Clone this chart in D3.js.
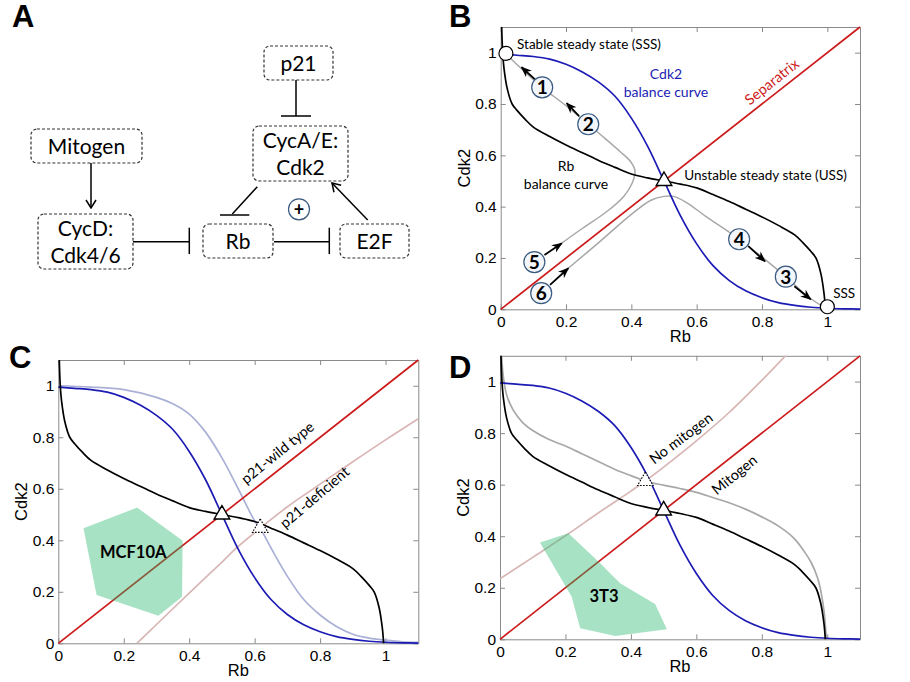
<!DOCTYPE html>
<html>
<head>
<meta charset="utf-8">
<script src="https://cdn.jsdelivr.net/npm/d3@7"></script>
<style>
body { margin: 0; background: #fff; }
svg { display: block; }
</style>
</head>
<body>
<script>
"use strict";

// ---- data (Rb, Cdk2) ----
const RANGE = [0, 1.1];
const TICKS = [0, 0.2, 0.4, 0.6, 0.8, 1];

const cdk2Balance = [[0, 0.995], [0.05, 0.99], [0.1, 0.985], [0.15, 0.975], [0.2, 0.955], [0.25, 0.925],
	[0.3, 0.885], [0.35, 0.83], [0.4, 0.745], [0.45, 0.635], [0.5, 0.5], [0.55, 0.365], [0.6, 0.255],
	[0.65, 0.17], [0.7, 0.112], [0.75, 0.072], [0.8, 0.045], [0.85, 0.026], [0.9, 0.015], [0.95, 0.008],
	[1.0, 0.004], [1.05, 0.002], [1.1, 0.001]];

const rbBalance = [[0.003, 1.1], [0.006, 1.0], [0.01, 0.94], [0.02, 0.86], [0.035, 0.8], [0.05, 0.775],
	[0.075, 0.74], [0.1, 0.71], [0.15, 0.673], [0.2, 0.64], [0.25, 0.61], [0.3, 0.58], [0.35, 0.553],
	[0.4, 0.527], [0.45, 0.512], [0.5, 0.5], [0.55, 0.488], [0.6, 0.473], [0.65, 0.447], [0.7, 0.42],
	[0.75, 0.39], [0.8, 0.36], [0.85, 0.327], [0.9, 0.29], [0.925, 0.26], [0.95, 0.225], [0.965, 0.2],
	[0.98, 0.14], [0.99, 0.06], [0.994, 0]];

const separatrix = [[0, 0], [1.1, 1.1]];

// trajectories 5 -> 2 -> 1 and 6 -> 4 -> 3
const trajUpper = [[0.186, 0.257], [0.243, 0.309], [0.324, 0.38], [0.376, 0.439], [0.402, 0.49],
	[0.411, 0.54], [0.398, 0.575], [0.365, 0.615], [0.32, 0.665], [0.268, 0.721], [0.2, 0.793],
	[0.127, 0.865], [0.07, 0.93], [0.016, 0.995]];
const trajLower = [[0.207, 0.16], [0.3, 0.26], [0.4, 0.37], [0.46, 0.425], [0.5, 0.44], [0.53, 0.44],
	[0.57, 0.415], [0.63, 0.36], [0.73, 0.273], [0.873, 0.127], [0.94, 0.05], [0.985, 0.012]];

const trajLabels = [1, 2, 3, 4, 5, 6];
const trajLabelPos = [[0.127, 0.865], [0.268, 0.721], [0.873, 0.127], [0.73, 0.273], [0.103, 0.184], [0.124, 0.063]];
const trajArrows = [
	[[0.105, 0.896], [0.064, 0.943]],
	[[0.24, 0.753], [0.202, 0.803]],
	[[0.899, 0.09], [0.949, 0.039]],
	[[0.758, 0.246], [0.809, 0.187]],
	[[0.134, 0.212], [0.187, 0.257]],
	[[0.151, 0.095], [0.207, 0.16]]
];

const stableStates = [[0.016, 0.997], [1.0, 0.01]];
const unstableState = [0.5, 0.5];

// panel C: p21-deficient
const cdk2BalanceP21Def = [[0, 1.0], [0.1, 0.995], [0.2, 0.985], [0.3, 0.955], [0.35, 0.93], [0.4, 0.89],
	[0.45, 0.82], [0.5, 0.72], [0.55, 0.6], [0.6, 0.475], [0.62, 0.44], [0.65, 0.37], [0.7, 0.26],
	[0.75, 0.17], [0.8, 0.11], [0.85, 0.065], [0.9, 0.035], [0.95, 0.02], [1.0, 0.012], [1.05, 0.006], [1.1, 0.004]];
const separatrixP21Def = [[0.24, 0], [0.3, 0.073], [0.4, 0.195], [0.5, 0.315], [0.546, 0.372], [0.617, 0.447],
	[0.7, 0.53], [0.8, 0.618], [0.9, 0.705], [1.0, 0.79], [1.1, 0.872]];
const ussP21Def = [0.617, 0.448];
const mcf10a = [[0.077, 0.447], [0.241, 0.527], [0.38, 0.398], [0.378, 0.181], [0.306, 0.107], [0.117, 0.188]];

// panel D: no mitogen
const rbBalanceNoMitogen = [[0.005, 1.1], [0.01, 1.02], [0.02, 0.95], [0.04, 0.89], [0.07, 0.84], [0.1, 0.81],
	[0.15, 0.775], [0.2, 0.75], [0.25, 0.72], [0.3, 0.69], [0.35, 0.66], [0.4, 0.635], [0.45, 0.612],
	[0.5, 0.598], [0.55, 0.585], [0.6, 0.57], [0.65, 0.55], [0.7, 0.53], [0.75, 0.505], [0.8, 0.475],
	[0.85, 0.44], [0.9, 0.39], [0.93, 0.34], [0.95, 0.3], [0.97, 0.24], [0.98, 0.19], [0.99, 0.11],
	[0.995, 0.04], [0.997, 0]];
const separatrixNoMitogen = [[0, 0.235], [0.1, 0.318], [0.204, 0.405], [0.3, 0.49], [0.4, 0.575],
	[0.444, 0.614], [0.5, 0.668], [0.6, 0.77], [0.7, 0.88], [0.8, 1.005], [0.872, 1.1]];
const ussNoMitogen = [0.444, 0.614];
const nih3t3 = [[0.122, 0.376], [0.209, 0.411], [0.306, 0.295], [0.367, 0.217], [0.474, 0.137],
	[0.51, 0.039], [0.352, 0.013], [0.245, 0.043], [0.219, 0.165]];

// ---- styles ----
const AXIS_COLOR = "#8a8a8a";
const BLUE = "#1c1cb4";
const RED = "#cc1a1a";
const GRAY = "#a8a8a8";
const LAVENDER = "#aab0d6";
const PINK = "#d8b6b6";
const GREEN = "rgb(37,182,107)";
const SANS = "'Liberation Sans', Arial, sans-serif";
const NOTE = "Lato, 'Open Sans', sans-serif";

const svg = d3.select("body").append("svg").attr("width", 910).attr("height", 682)
	.style("font-family", NOTE);

const defs = svg.append("defs");
defs.append("marker").attr("id", "barb").attr("viewBox", "0 0 10 8")
	.attr("refX", 9).attr("refY", 4).attr("markerWidth", 11).attr("markerHeight", 9)
	.attr("markerUnits", "userSpaceOnUse").attr("orient", "auto")
	.append("path").attr("d", "M0,0 L10,4 L0,8 L3,4 Z").attr("fill", "#000");
defs.append("marker").attr("id", "vee").attr("viewBox", "0 0 10 12")
	.attr("refX", 9).attr("refY", 6).attr("markerWidth", 10).attr("markerHeight", 12)
	.attr("markerUnits", "userSpaceOnUse").attr("orient", "auto")
	.append("path").attr("d", "M1,1 L9,6 L1,11").attr("fill", "none").attr("stroke", "#000").attr("stroke-width", 1.5);

function panelLetter(txt, x, y) {
	svg.append("text").attr("x", x).attr("y", y).text(txt)
		.attr("font-family", SANS).attr("font-weight", "bold").attr("font-size", 31);
}

function makePanel(id, left, right, bottom, top) {
	const x = d3.scaleLinear().domain(RANGE).range([left, right]);
	const y = d3.scaleLinear().domain(RANGE).range([bottom, top]);
	const g = svg.append("g").attr("class", `panel${id}`);
	defs.append("clipPath").attr("id", `clip${id}`).append("rect")
		.attr("x", left - 1).attr("y", top - 1).attr("width", right - left + 2).attr("height", bottom - top + 2);

	const axes = g.append("g");
	const fmt = d => String(d);
	axes.append("g").attr("transform", `translate(0,${y(0)})`)
		.call(d3.axisBottom(x).tickValues(TICKS).tickSize(-5).tickSizeOuter(0).tickPadding(7).tickFormat(fmt));
	axes.append("g").attr("transform", `translate(0,${y(1.1)})`)
		.call(d3.axisTop(x).tickValues(TICKS).tickSize(-5).tickSizeOuter(0).tickFormat(""));
	axes.append("g").attr("transform", `translate(${x(0)},0)`)
		.call(d3.axisLeft(y).tickValues(TICKS).tickSize(-5).tickSizeOuter(0).tickPadding(4).tickFormat(fmt));
	axes.append("g").attr("transform", `translate(${x(1.1)},0)`)
		.call(d3.axisRight(y).tickValues(TICKS).tickSize(-5).tickSizeOuter(0).tickFormat(""));
	axes.selectAll("path, line").attr("stroke", AXIS_COLOR);
	axes.selectAll("text").attr("font-family", SANS).attr("font-size", 15.5).attr("fill", "#000");

	g.append("text").attr("x", x(0.55)).attr("y", y(0) + 33).attr("text-anchor", "middle")
		.attr("font-family", SANS).attr("font-size", 16.5).text("Rb");
	g.append("text").attr("transform", `translate(${x(0) - 31},${(y(0) + y(1.1)) / 2}) rotate(-90)`)
		.attr("text-anchor", "middle").attr("font-family", SANS).attr("font-size", 16.5).text("Cdk2");

	const plot = g.append("g").attr("clip-path", `url(#clip${id})`);
	return {x, y, g, plot};
}

function curve(p, data, color, width) {
	const line = d3.line().x(d => p.x(d[0])).y(d => p.y(d[1])).curve(d3.curveCatmullRom.alpha(0.5));
	p.plot.append("path").datum(data).attr("d", line)
		.attr("fill", "none").attr("stroke", color).attr("stroke-width", width || 1.7);
}

function region(p, data) {
	p.plot.append("path").datum(data)
		.attr("d", d3.line().x(d => p.x(d[0])).y(d => p.y(d[1])).curve(d3.curveLinearClosed))
		.attr("fill", GREEN).attr("fill-opacity", 0.4);
}

function triangle(p, pt, dotted) {
	p.g.append("path").attr("d", d3.symbol(d3.symbolTriangle).size(105)())
		.attr("transform", `translate(${p.x(pt[0])},${p.y(pt[1])})`)
		.attr("fill", "#fff").attr("stroke", "#000").attr("stroke-width", dotted ? 1.1 : 1.4)
		.attr("stroke-dasharray", dotted ? "1.6,1.4" : null);
}

function note(p, txt, pos, opts) {
	opts = opts || {};
	const t = p.g.append("text").text(txt)
		.attr("font-size", opts.size || 13.5).attr("fill", opts.color || "#000")
		.attr("font-weight", opts.bold ? "bold" : null)
		.attr("text-anchor", opts.anchor || "middle");
	if (opts.rotate) {
		t.attr("transform", `translate(${p.x(pos[0])},${p.y(pos[1])}) rotate(${opts.rotate})`).attr("dy", "0.35em");
	} else {
		t.attr("x", p.x(pos[0])).attr("y", p.y(pos[1]));
	}
}

// ---- panel A: network diagram ----
panelLetter("A", 12, 27);
const diagram = svg.append("g").attr("class", "diagram");
const nodeLabels = [["p21"], ["CycA/E:", "Cdk2"], ["Mitogen"], ["CycD:", "Cdk4/6"], ["Rb"], ["E2F"]];
const nodeBoxes = [[264, 46, 69, 34], [253, 126, 95, 55], [31, 129, 111, 34], [38, 214, 95, 55], [203, 224, 70, 34], [340, 224, 69, 34]];
nodeLabels.forEach((lines, i) => {
	const b = nodeBoxes[i];
	diagram.append("rect").attr("x", b[0]).attr("y", b[1]).attr("width", b[2]).attr("height", b[3])
		.attr("rx", 6).attr("fill", "none").attr("stroke", "#333").attr("stroke-width", 1.2)
		.attr("stroke-dasharray", "3,2");
	const first = b[1] + b[3] / 2 + 7.5 - (lines.length - 1) * 13;
	lines.forEach((l, j) => {
		diagram.append("text").attr("x", b[0] + b[2] / 2).attr("y", first + j * 26.5)
			.attr("text-anchor", "middle").attr("font-size", 21).text(l);
	});
});
function seg(x1, y1, x2, y2, marker) {
	diagram.append("line").attr("x1", x1).attr("y1", y1).attr("x2", x2).attr("y2", y2)
		.attr("stroke", "#000").attr("stroke-width", 1.5)
		.attr("marker-end", marker ? `url(#${marker})` : null);
}
seg(296, 80, 296, 116); seg(281, 116, 311, 116);
seg(91, 163, 91, 208, "vee");
seg(133, 241.7, 189.3, 241.7); seg(189.3, 227.7, 189.3, 254);
seg(274, 241.7, 329.3, 241.7); seg(329.3, 227.7, 329.3, 254);
seg(257.3, 186.7, 232.3, 214); seg(220, 215, 249.3, 215);
seg(367.7, 220, 332, 183, "vee");
diagram.append("circle").attr("cx", 299).attr("cy", 209.3).attr("r", 10.5)
	.attr("fill", "#fff").attr("stroke", "#3a5a80").attr("stroke-width", 1.2);
diagram.append("text").attr("x", 299).attr("y", 209.3).attr("dy", "0.36em").attr("text-anchor", "middle")
	.attr("font-size", 18).attr("font-weight", "bold").text("+");

// ---- panel B: phase plane ----
panelLetter("B", 449, 27);
const pB = makePanel("B", 500.7, 860, 309.3, 27);
curve(pB, trajUpper, GRAY, 1.5);
curve(pB, trajLower, GRAY, 1.5);
curve(pB, cdk2Balance, BLUE);
curve(pB, rbBalance, "#000");
curve(pB, separatrix, RED);
trajArrows.forEach(a => {
	pB.g.append("line").attr("x1", pB.x(a[0][0])).attr("y1", pB.y(a[0][1]))
		.attr("x2", pB.x(a[1][0])).attr("y2", pB.y(a[1][1]))
		.attr("stroke", "#000").attr("stroke-width", 1.8).attr("marker-end", "url(#barb)");
});
trajLabels.forEach((n, i) => {
	const pos = trajLabelPos[i];
	pB.g.append("circle").attr("cx", pB.x(pos[0])).attr("cy", pB.y(pos[1])).attr("r", 10.5)
		.attr("fill", "#f2f6fa").attr("stroke", "#3a5a80").attr("stroke-width", 1.2);
	pB.g.append("text").attr("x", pB.x(pos[0])).attr("y", pB.y(pos[1])).attr("dy", "0.36em")
		.attr("text-anchor", "middle").attr("font-size", 19).attr("font-weight", "bold").text(n);
});
stableStates.forEach(s => {
	pB.g.append("circle").attr("cx", pB.x(s[0])).attr("cy", pB.y(s[1])).attr("r", 7)
		.attr("fill", "#fff").attr("stroke", "#000").attr("stroke-width", 1.2);
});
triangle(pB, unstableState, false);
note(pB, "Stable steady state (SSS)", [0.05, 1.014], {anchor: "start"});
note(pB, "Cdk2", [0.506, 0.896], {color: BLUE, size: 14});
note(pB, "balance curve", [0.506, 0.826], {color: BLUE, size: 14});
note(pB, "Separatrix", [0.83, 0.887], {color: RED, rotate: -38.5, size: 14.5});
note(pB, "Rb", [0.2, 0.54], {size: 14});
note(pB, "balance curve", [0.2, 0.469], {size: 14});
note(pB, "Unstable steady state (USS)", [0.562, 0.504], {anchor: "start"});
note(pB, "SSS", [1.018, 0.043], {anchor: "start"});

// ---- panel C: p21 ----
panelLetter("C", 9, 368);
const pC = makePanel("C", 58.3, 418.3, 643.3, 360);
curve(pC, cdk2BalanceP21Def, LAVENDER);
curve(pC, separatrixP21Def, PINK);
curve(pC, cdk2Balance, BLUE);
curve(pC, rbBalance, "#000");
curve(pC, separatrix, RED);
region(pC, mcf10a);
triangle(pC, unstableState, false);
triangle(pC, ussP21Def, true);
note(pC, "p21-wild type", [0.67, 0.74], {rotate: -39, size: 14.5});
note(pC, "p21-deficient", [0.783, 0.567], {rotate: -40.5, size: 14.5});
note(pC, "MCF10A", [0.229, 0.331], {bold: true, size: 16.5});

// ---- panel D: mitogen ----
panelLetter("D", 449, 378);
const pD = makePanel("D", 500, 860, 639.3, 355.8);
curve(pD, rbBalanceNoMitogen, GRAY);
curve(pD, separatrixNoMitogen, PINK);
curve(pD, cdk2Balance, BLUE);
curve(pD, rbBalance, "#000");
curve(pD, separatrix, RED);
region(pD, nih3t3);
triangle(pD, unstableState, false);
triangle(pD, ussNoMitogen, true);
note(pD, "No mitogen", [0.553, 0.78], {rotate: -37, size: 14.5});
note(pD, "Mitogen", [0.716, 0.638], {rotate: -39, size: 14.5});
note(pD, "3T3", [0.318, 0.145], {bold: true, size: 16.5});
</script>
</body>
</html>
